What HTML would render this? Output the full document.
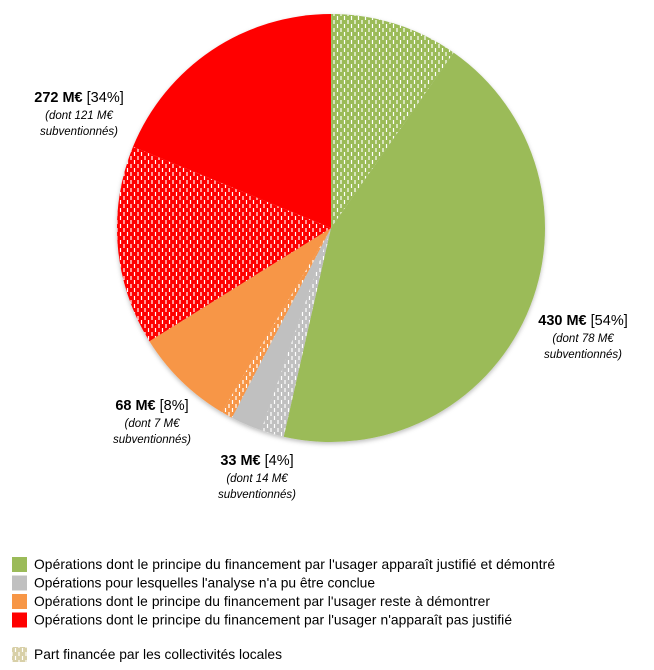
<!DOCTYPE html>
<html><head><meta charset="utf-8"><style>
body{margin:0;background:#fff;font-family:"Liberation Sans",Calibri,sans-serif}
svg{display:block}
</style></head><body>
<svg width="654" height="670" viewBox="0 0 654 670">
<defs>
<pattern id="hatch" width="7" height="8" patternUnits="userSpaceOnUse">
<line x1="1.5" y1="0" x2="1.5" y2="4" stroke="#fff" stroke-width="1.2"/>
<line x1="5" y1="4" x2="5" y2="8" stroke="#fff" stroke-width="1.2"/>
</pattern>
<filter id="sh" x="-10%" y="-10%" width="120%" height="120%"><feDropShadow dx="0" dy="2" stdDeviation="2" flood-color="#000" flood-opacity="0.25"/></filter>
</defs>
<g id="pie" filter="url(#sh)"></g>
<g id="labels"></g>
<g id="legend" font-size="13.8" fill="#000"></g>
</svg>
<script>
const categories=["justifié","non conclu","à démontrer","non justifié"];
const totals=[430,33,68,272];
const subsidized=[78,14,7,121];
const percents=[54,4,8,34];
const colors=["#9bbb59","#c0c0c0","#f79646","#ff0000"];
const legendText=["Opérations dont le principe du financement par l'usager apparaît justifié et démontré","Opérations pour  lesquelles l'analyse n'a pu être conclue","Opérations dont le principe du financement par l'usager reste à démontrer","Opérations dont le principe du financement par l'usager n'apparaît pas justifié"];
const NS="http://www.w3.org/2000/svg";
const cx=331,cy=228,r=214;
const sum=totals.reduce((a,b)=>a+b,0);
function pt(a,rr){return [cx+rr*Math.sin(a),cy-rr*Math.cos(a)];}
function arc(a0,a1,fill,name){
  const p0=pt(a0,r),p1=pt(a1,r),large=(a1-a0)>Math.PI?1:0;
  const p=document.createElementNS(NS,"path");
  p.setAttribute("d",`M${cx},${cy}L${p0[0]},${p0[1]}A${r},${r} 0 ${large} 1 ${p1[0]},${p1[1]}Z`);
  p.setAttribute("fill",fill);
  
  
  document.getElementById("pie").appendChild(p);
}
let a=0;
const order=[[0,true],[0,false],[1,true],[1,false],[2,true],[2,false],[3,true],[3,false]];
order.forEach(([i,h])=>{
  const v=h?subsidized[i]:totals[i]-subsidized[i];
  const a1=a+v/sum*2*Math.PI;
  arc(a,a1,colors[i],"slice-"+i+(h?"-subsidized":""));
  if(h) arc(a,a1,"url(#hatch)","slice-"+i+"-hatch");
  a=a1;
});
const labelPos=[[583,325],[257,465],[152,410],[79,102]];
const lab=document.getElementById("labels");
totals.forEach((t,i)=>{
  const [x,y]=labelPos[i];
  const g=document.createElementNS(NS,"text");
  
  
  g.setAttribute("text-anchor","middle");g.setAttribute("font-size","14.5");
  g.innerHTML=`<tspan x="${x}" y="${y}" font-weight="bold">${t} M€ </tspan><tspan>[${percents[i]}%]</tspan>`+
   `<tspan x="${x}" y="${y+17}" font-style="italic" font-size="11.5">(dont ${subsidized[i]} M€</tspan>`+
   `<tspan x="${x}" y="${y+33}" font-style="italic" font-size="11.5">subventionnés)</tspan>`;
  lab.appendChild(g);
});
const leg=document.getElementById("legend");
legendText.forEach((t,i)=>{
  const y=557+i*18.5;
  const r=document.createElementNS(NS,"rect");
  r.setAttribute("x",12);r.setAttribute("y",y);r.setAttribute("width",15);r.setAttribute("height",15);r.setAttribute("fill",colors[i]);
  
  
  leg.appendChild(r);
  const tx=document.createElementNS(NS,"text");
  tx.setAttribute("x",34);tx.setAttribute("y",y+12);tx.textContent=t;
  tx.setAttribute("textLength",i==0?521:i==1?341:i==2?456:478);
  
  
  leg.appendChild(tx);
});
const hr=document.createElementNS(NS,"rect");
hr.setAttribute("x",12);hr.setAttribute("y",647);hr.setAttribute("width",15);hr.setAttribute("height",15);hr.setAttribute("fill","#d8d0a8");


leg.appendChild(hr);
const hr2=document.createElementNS(NS,"rect");
hr2.setAttribute("x",12);hr2.setAttribute("y",647);hr2.setAttribute("width",15);hr2.setAttribute("height",15);hr2.setAttribute("fill","url(#hatch)");


leg.appendChild(hr2);
const ht=document.createElementNS(NS,"text");
ht.setAttribute("x",34);ht.setAttribute("y",659);ht.textContent="Part financée par les collectivités locales";
ht.setAttribute("textLength",248);


leg.appendChild(ht);
</script>
</body></html>
